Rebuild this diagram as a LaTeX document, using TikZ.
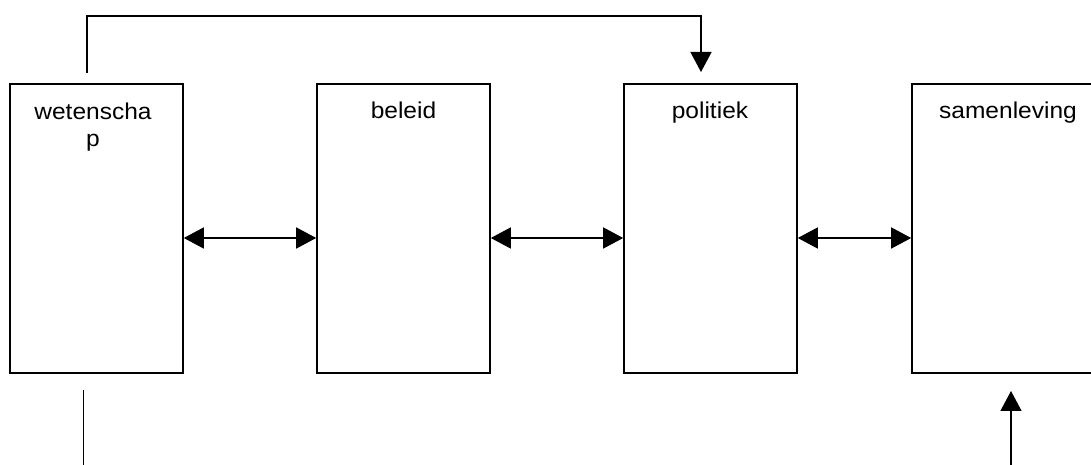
\documentclass[tikz,border=0pt]{standalone}
\usepackage{fontspec}
\setmainfont{Liberation Sans}[FakeStretch=1.07]
\usetikzlibrary{arrows.meta,calc}
\begin{document}
\begin{tikzpicture}[x=1bp,y=-1bp,
  box/.style={draw, line width=1.6bp, rectangle, inner sep=0pt, minimum height=289bp},
  conn/.style={line width=1.4bp},
  tip/.style={-{Triangle[length=20bp,width=21bp]}},
  dtip/.style={{Triangle[length=20bp,width=21bp]}-{Triangle[length=20bp,width=21bp]}},
  lbl/.style={anchor=base, inner sep=0pt, font=\fontsize{23}{27.5}\selectfont}]
\useasboundingbox (0,0) rectangle (1091,465);
\clip (0,0) rectangle (1091,465);
\node[box, minimum width=173bp] (b1) at (96.5,228.5) {};
\node[box, minimum width=173bp] (b2) at (403.5,228.5) {};
\node[box, minimum width=173bp] (b3) at (710.5,228.5) {};
\node[box, minimum width=190bp] (b4) at (1007,228.5) {};
\node[lbl, align=center] (l1) at (93,146.5) {wetenscha\\p};
\node[lbl] (l2) at (403.5,119) {beleid};
\node[lbl] (l3) at (710,119) {politiek};
\node[lbl] (l4) at (1008,119) {samenleving};
\draw[conn,dtip] ([yshift=-9.5bp]b1.east) -- ([yshift=-9.5bp]b2.west);
\draw[conn,dtip] ([yshift=-9.5bp]b2.east) -- ([yshift=-9.5bp]b3.west);
\draw[conn,dtip] ([yshift=-9.5bp]b3.east) -- ([yshift=-9.5bp]b4.west);
\coordinate (t1) at (87,73);
\coordinate (t2) at (701,72);
\draw[conn,tip] (t1) -- (87,16) -| (t2);
\coordinate (s1) at (83.5,390);
\coordinate (s2) at (83.5,466);
\draw[conn] (s1) -- (s2);
\coordinate (r1) at (1011,466);
\coordinate (r2) at (1011,391);
\draw[conn,tip] (r1) -- (r2);
\end{tikzpicture}
\end{document}
